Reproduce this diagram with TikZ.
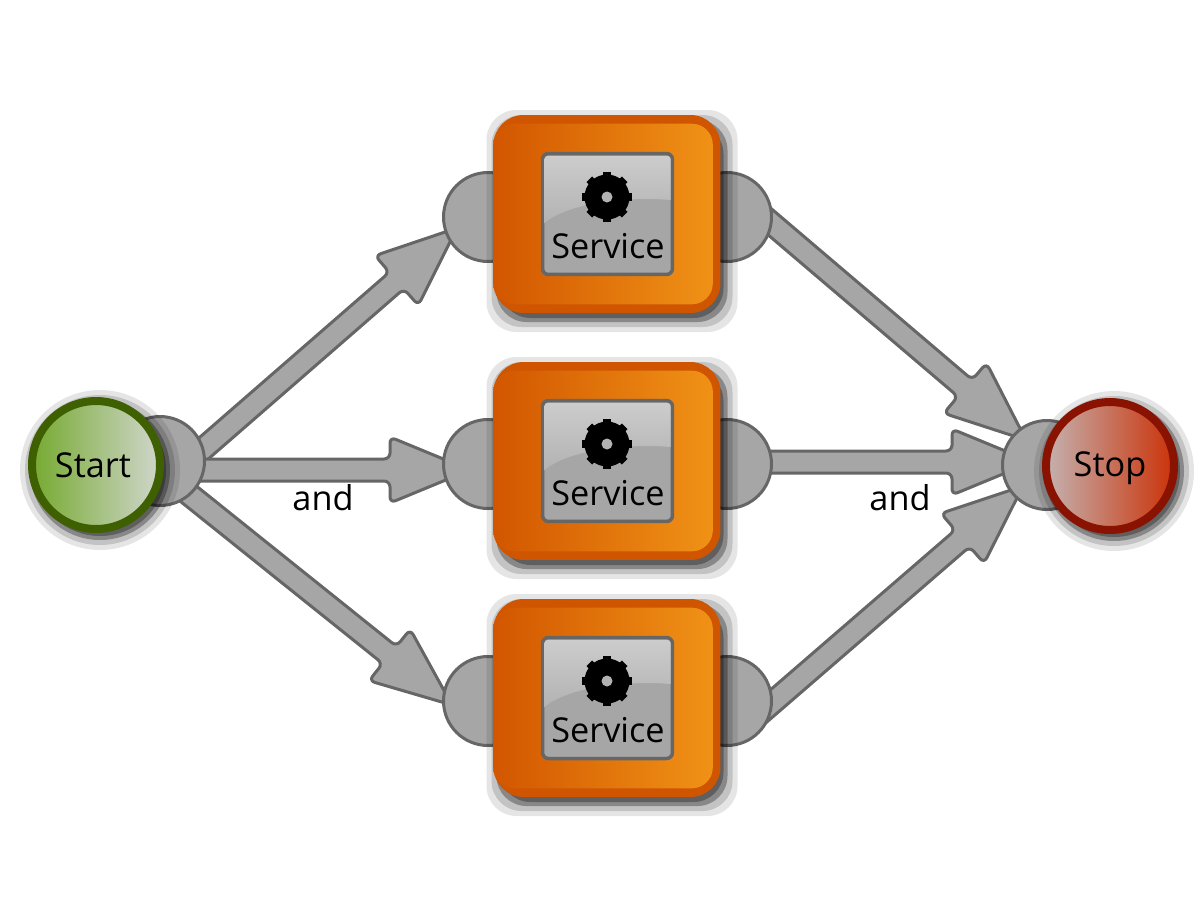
\documentclass[tikz,border=0pt]{standalone}
\usepackage{fontspec}
\setmainfont{Open Sans}
\usetikzlibrary{calc,backgrounds}

\definecolor{flowfill}{HTML}{A6A6A6}
\definecolor{flowline}{HTML}{666666}
\definecolor{boxdark}{HTML}{CF5500}
\definecolor{boxleft}{HTML}{D25600}
\definecolor{boxright}{HTML}{F09216}
\definecolor{startring}{HTML}{3F6000}
\definecolor{startleft}{HTML}{76AA30}
\definecolor{startright}{HTML}{D0D6CC}
\definecolor{stopring}{HTML}{8A1200}
\definecolor{stopleft}{HTML}{C4B2B0}
\definecolor{stopright}{HTML}{CB3208}

\newcommand{\fatarrow}[2]{%
  \coordinate (hd) at ($(#2)!1.6cm!(#1)$);
  \draw[flow] ($(#1)!.22cm!90:(#2)$) -- ($(hd)!.22cm!-90:(#1)$) -- ($(hd)!.66cm!-90:(#1)$)
    -- (#2) -- ($(hd)!.66cm!90:(#1)$) -- ($(hd)!.22cm!90:(#1)$) -- ($(#1)!.22cm!-90:(#2)$) -- cycle;
}
\newcommand{\boxshadow}[1]{%
  \foreach \d/\o in {12/.1,7/.15,2/.3,-2/.3}
    \fill[black,opacity=\o,rounded corners=.6cm] ($(#1)+(-108.5-\d,-92-\d)$) rectangle ($(#1)+(118.5+\d,106+\d)$);
}
\newcommand{\roundshadow}[1]{%
  \foreach \d/\o in {12/.1,7/.15,2/.3,-2/.3}
    \fill[black,opacity=\o] ($(#1)+(4,5)$) circle[radius={68+\d}];
}

\begin{document}
\begin{tikzpicture}[
    x=0.02cm, y=-0.02cm,
    flow/.style={draw=flowline, fill=flowfill, line width=.06cm, rounded corners=.12cm},
    port/.style={circle, draw=flowline, fill=flowfill, line width=.06cm, minimum size=1.78cm, inner sep=0pt},
    svcbox/.style={rectangle, rounded corners=.6cm, fill=boxdark, minimum width=4.54cm, minimum height=3.96cm, inner sep=0pt},
    panel/.style={rectangle, rounded corners=.12cm, draw=flowline, fill=flowfill, line width=.07cm, minimum width=2.6cm, minimum height=2.42cm, inner sep=0pt},
    endpoint/.style={circle, line width=.16cm, minimum size=2.56cm, inner sep=0pt},
    lbl/.style={font=\fontsize{19.5}{22}\selectfont, text=black, inner sep=0pt}
]
\useasboundingbox (0,0) rectangle (1200,900);

% ports
\node[port] (portStart) at (160,461) {};
\node[port] (portStop) at (1047,465) {};
\foreach \n/\y in {a/217,b/464,c/701} {
  \node[port] (portIn\n) at (488,\y) {};
  \node[port] (portOut\n) at (727,\y) {};
}

% service boxes
\foreach \n/\y in {a/214,b/461,c/698} {
  \coordinate (pos\n) at (607,\y);
  \boxshadow{pos\n}
  \node[svcbox] (box\n) at (pos\n) {};
  \shade[left color=boxleft, right color=boxright, rounded corners=.42cm]
    ($(box\n.north west)+(0,9)$) rectangle ($(box\n.south east)+(-8,-9)$);
  \node[panel] (panel\n) at (607.5,\y) {};
  \shade[top color=black!20, bottom color=black!30, rounded corners=.06cm]
    ($(panel\n)+(-63,9)$) -- ($(panel\n)+(-63,-58)$) -- ($(panel\n)+(63,-58)$) [sharp corners] -- ($(panel\n)+(63,-14)$)
    .. controls ($(panel\n)+(30,-17)$) and ($(panel\n)+(-35,-14)$) .. cycle;
  \node[circle, fill=black, minimum size=.9cm, inner sep=0pt] (gear\n) at (607,\y-17) {};
  \foreach \a in {0,45,...,315}
    \fill[black, rotate around={\a:(gear\n)}] ($(gear\n)+(-4,-25)$) rectangle ($(gear\n)+(4,0)$);
  \node[circle, fill=black!30, minimum size=.22cm, inner sep=0pt] (hole\n) at (gear\n) {};
  \node[lbl] (text\n) at (608,\y+32) {Service};
}

% start and stop
\coordinate (posStart) at (96,465);
\coordinate (posStop) at (1110,466);
\roundshadow{posStart}
\roundshadow{posStop}
\node[endpoint, draw=startring, left color=startleft, right color=startright] (start) at (posStart) {};
\node[lbl] (startText) at (93,465) {Start};
\node[endpoint, draw=stopring, left color=stopleft, right color=stopright] (stop) at (posStop) {};
\node[lbl] (stopText) at (1110,468) {Stop};

\node[lbl] (andLeft) at (323,498) {and};
\node[lbl] (andRight) at (900,498) {and};

% arrow ends, hidden under the ports
\coordinate (startA) at (180,469);
\coordinate (startB) at (180,470);
\coordinate (startC) at (180,487);
\coordinate (tipA) at (457,228);
\coordinate (tipB) at (470,470);
\coordinate (tipC) at (452,705);
\coordinate (backA) at (750,205);
\coordinate (backB) at (750,462);
\coordinate (backC) at (750,722);
\coordinate (stopA) at (1026,440);
\coordinate (stopB) at (1032,462);
\coordinate (stopC) at (1023,486);

\begin{scope}[on background layer]
  \fatarrow{startA}{tipA}
  \fatarrow{startB}{tipB}
  \fatarrow{startC}{tipC}
  \fatarrow{backA}{stopA}
  \fatarrow{backB}{stopB}
  \fatarrow{backC}{stopC}
\end{scope}
\end{tikzpicture}
\end{document}
